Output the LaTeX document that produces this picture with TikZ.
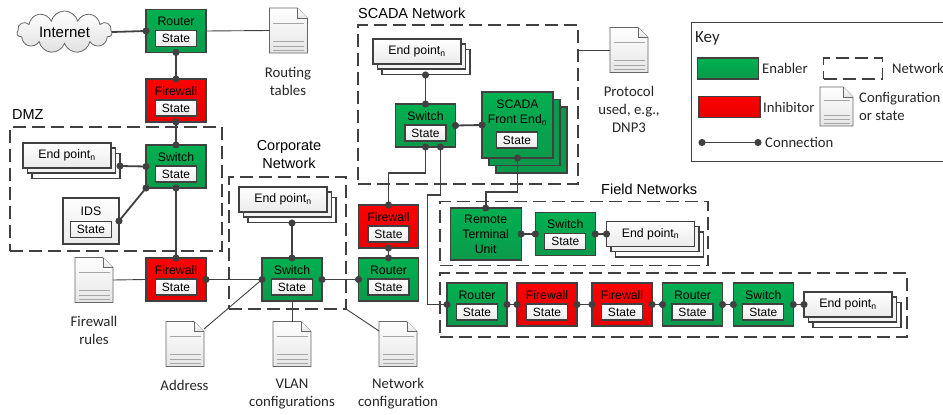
\documentclass[tikz,border=0pt]{standalone}
\usepackage{fontspec}
\setmainfont{Liberation Sans}
\newfontfamily\labelfont{Carlito}
\usetikzlibrary{arrows.meta}
\usetikzlibrary{calc}
\usetikzlibrary{shadows}
\usetikzlibrary{shapes.symbols}
\definecolor{linegray}{HTML}{404040}
\definecolor{greentop}{HTML}{00B050}
\definecolor{greenlow}{HTML}{0B9A4B}
\definecolor{redtop}{HTML}{FF0000}
\definecolor{redlow}{HTML}{E60000}
\tikzset{asset/.style={draw=linegray, line width=1.3pt, inner sep=0, outer sep=0, minimum width=60pt, minimum height=43pt}}
\tikzset{enabler/.style={asset, top color=greentop, bottom color=greenlow}}
\tikzset{inhibitor/.style={asset, top color=redtop, bottom color=redlow}}
\tikzset{plainbox/.style={asset, top color=white, bottom color=black!8}}
\tikzset{assetname/.style={inner sep=0, font=\fontsize{12.3}{15}\selectfont, align=center}}
\tikzset{statebox/.style={draw=linegray, line width=1.3pt, inner sep=0, outer sep=0, minimum width=41pt, minimum height=16pt, top color=white, bottom color=black!8, font=\fontsize{12}{14}\selectfont}}
\tikzset{endstack/.style={plainbox, minimum width=88pt, minimum height=25pt, font=\fontsize{12.3}{14}\selectfont, copy shadow={shadow xshift=9pt, shadow yshift=-10.5pt, fill=white, draw=linegray}, copy shadow={shadow xshift=4.5pt, shadow yshift=-5pt, fill=black!5, draw=linegray}}}
\tikzset{network/.style={draw=linegray, line width=1.3pt, dash pattern=on 13pt off 6pt, inner sep=0, outer sep=0}}
\tikzset{link/.style={draw=linegray, line width=1.8pt, {Circle[length=7pt]}-{Circle[length=7pt]}, shorten >=-3.5pt, shorten <=-3.5pt}}
\tikzset{thinlink/.style={draw=linegray, line width=0.9pt}}
\tikzset{docnode/.style={inner sep=0, outer sep=0, minimum width=38pt, minimum height=45pt}}
\tikzset{docsheet/.style={draw=black!60, line width=0.7pt, top color=white, bottom color=black!10}}
\tikzset{docrule/.style={draw=black!35, line width=0.6pt}}
\tikzset{doclabel/.style={inner sep=0, align=center, text=black!85, font=\labelfont\fontsize{14.8}{18}\selectfont}}
\tikzset{netlabel/.style={inner sep=0, align=center, font=\fontsize{14.5}{18}\selectfont}}
\tikzset{keylabel/.style={inner sep=0, anchor=west, align=left, text=black!85, font=\labelfont\fontsize{14.7}{18}\selectfont}}

\newcommand{\asset}[4]{
  \node[#1] at (#3) (#2) {};
  \node[assetname] at ([yshift=-12pt]#2.north) (#2name) {#4};
  \node[statebox] at ([yshift=-29pt]#2.north) (#2state) {State};
}
\newcommand{\docpage}[3][]{
  \node[docnode, #1] at (#3) (#2) {};
  \draw[docsheet] (#2.north west) -- ([xshift=-10pt]#2.north east) -- ([yshift=-10pt]#2.north east) -- (#2.south east) -- (#2.south west) -- cycle;
  \draw[docsheet] ([xshift=-10pt]#2.north east) -- ([shift={(-10pt,-10pt)}]#2.north east) -- ([yshift=-10pt]#2.north east);
  \foreach \f in {0.33,0.73,0.84,0.93}
    \draw[docrule] ($(#2.north west)!\f!(#2.south west)+(3.5pt,0)$) -- ($(#2.north east)!\f!(#2.south east)+(-3.5pt,0)$);
}

\begin{document}
\begin{tikzpicture}[x=1pt, y=-1pt]
  \useasboundingbox (0,0) rectangle (943,415);

  \node[network, minimum width=212pt, minimum height=124pt] at (116,189) (dmznet) {};
  \node[network, minimum width=117pt, minimum height=132pt] at (287.5,243) (corpnet) {};
  \node[network, minimum width=220pt, minimum height=159pt] at (468,104.5) (scadanet) {};
  \node[network, minimum width=268pt, minimum height=64pt] at (574,233.7) (fieldneta) {};
  \node[network, minimum width=467pt, minimum height=64pt] at (673.5,305) (fieldnetb) {};

  \node[netlabel, anchor=west] at (12,115) (dmzlabel) {DMZ};
  \node[netlabel] at (289,155) (corplabel) {Corporate\\Network};
  \node[netlabel, anchor=west] at (358,13) (scadalabel) {SCADA Network};
  \node[netlabel, anchor=west] at (601,189) (fieldlabel) {Field Networks};

  \node[cloud, cloud puffs=11, aspect=2.6, draw=black!60, line width=0.8pt, inner sep=0, outer sep=0, minimum width=95pt, minimum height=37pt, top color=white, bottom color=black!12, font=\fontsize{15}{18}\selectfont] at (64.5,32) (internet) {Internet};

  \asset{enabler}{router}{176,31}{Router}
  \asset{inhibitor}{fwtop}{176,100.5}{Firewall}
  \asset{enabler}{dmzswitch}{176,166.5}{Switch}
  \asset{inhibitor}{fwdmz}{176,279.5}{Firewall}
  \asset{enabler}{corpswitch}{292,279.5}{Switch}
  \asset{inhibitor}{fwscada}{388.5,226.5}{Firewall}
  \asset{enabler}{corprouter}{388.5,279.5}{Router}
  \asset{enabler}{scadaswitch}{425.5,125.5}{Switch}
  \asset{enabler}{fieldswitch}{565.3,234}{Switch}
  \asset{enabler}{routera}{477,304.5}{Router}
  \asset{inhibitor}{fwa}{547,304.5}{Firewall}
  \asset{inhibitor}{fwb}{622,304.5}{Firewall}
  \asset{enabler}{routerb}{692.5,304.5}{Router}
  \asset{enabler}{switchb}{763.3,304.5}{Switch}

  \node[plainbox, minimum width=56pt, minimum height=46pt] at (91,221) (ids) {};
  \node[assetname] at (91,211) (idsname) {IDS};
  \node[statebox] at (91,229.5) (idsstate) {State};

  \node[enabler, copy shadow={shadow xshift=14pt, shadow yshift=-15pt, fill=greenlow, draw=linegray}, copy shadow={shadow xshift=7pt, shadow yshift=-7.5pt, fill=greenlow, draw=linegray}, minimum width=71pt, minimum height=66pt] at (517.5,125) (scadafront) {};
  \node[assetname] at (517.5,112.5) (scadafrontname) {SCADA\\Front End\textsubscript{n}};
  \node[statebox] at (517,140) (scadafrontstate) {State};

  \node[enabler, minimum width=71pt, minimum height=52pt, align=center, font=\fontsize{12.3}{15}\selectfont] at (485.7,234) (rtu) {Remote\\Terminal\\Unit};

  \node[endstack] at (67,155.5) (dmzend) {End point\textsubscript{n}};
  \node[endstack] at (283,199.5) (corpend) {End point\textsubscript{n}};
  \node[endstack] at (417,51.5) (scadaend) {End point\textsubscript{n}};
  \node[endstack] at (650.5,234) (fieldend) {End point\textsubscript{n}};
  \node[endstack] at (848,304.5) (endb) {End point\textsubscript{n}};

  \docpage{routingdoc}{288.5,30.5}
  \docpage{firewalldoc}{94,280}
  \docpage{addressdoc}{185,344}
  \docpage{vlandoc}{292,344}
  \docpage{networkdoc}{398,344}
  \docpage{protocoldoc}{629,50}

  \node[doclabel] at (288,81) (routinglabel) {Routing\\tables};
  \node[doclabel] at (94,330) (firewalllabel) {Firewall\\rules};
  \node[doclabel] at (184.5,385) (addresslabel) {Address};
  \node[doclabel] at (292,394) (vlanlabel) {VLAN\\configurations};
  \node[doclabel] at (398,394) (networklabel) {Network\\configuration};
  \node[doclabel] at (629,109.5) (protocollabel) {Protocol\\used, e.g.,\\DNP3};

  \coordinate (fwbend) at (388.5,172.7);
  \coordinate (riserbend) at (427.5,195);
  \coordinate (rtubend) at (485.7,191.7);

  \draw[link, {Circle[length=0pt]}-{Circle[length=7pt]}, shorten <=0pt] (internet.east) -- (router.west);
  \draw[link] (router.south) -- (fwtop.north);
  \draw[link] (fwtop.south) -- (dmzswitch.north);
  \draw[link] ([shift={(9,10.5)}]dmzend.east) -- (dmzswitch.west);
  \draw[link] (ids.east) -- (dmzswitch.south west);
  \draw[link] (dmzswitch.south) -- (fwdmz.north);
  \draw[link] (fwdmz.east) -- (corpswitch.west);
  \draw[link] ([shift={(9,11)}]corpend.south) -- (corpswitch.north);
  \draw[link] (corpswitch.east) -- (corprouter.west);
  \draw[link] (corprouter.north) -- (fwscada.south);
  \draw[link] ([shift={(8.5,11)}]scadaend.south) -- (scadaswitch.north);
  \draw[link] (scadaswitch.east) -- (scadafront.west);
  \draw[link] (scadaswitch.south) |- (fwbend) -- (fwscada.north);
  \draw[link] ([xshift=15pt]scadaswitch.south) |- (riserbend) |- (routera.west);
  \draw[link] (scadafront.south) |- (rtubend) -- (rtu.north);
  \draw[link] (rtu.east) -- (fieldswitch.west);
  \draw[link] (fieldswitch.east) -- (fieldend.west);
  \draw[link] (routera.east) -- (fwa.west);
  \draw[link] (fwa.east) -- (fwb.west);
  \draw[link] (fwb.east) -- (routerb.west);
  \draw[link] (routerb.east) -- (switchb.west);
  \draw[link] (switchb.east) -- (endb.west);

  \draw[thinlink] (router.east) -- (routingdoc.west);
  \draw[thinlink] (firewalldoc.east) -- (fwdmz.west);
  \draw[thinlink] ([yshift=15pt]addressdoc.east) -- (corpswitch.west);
  \draw[thinlink] (corpswitch.south) -- (vlandoc.north);
  \draw[thinlink] (corpnet.south east) -- ([yshift=13pt]networkdoc.west);
  \draw[thinlink] (scadanet.east |- protocoldoc.west) -- (protocoldoc.west);

  \node[draw=linegray, line width=0.8pt, inner sep=0, minimum width=254pt, minimum height=139pt] at (818,92.2) (keybox) {};
  \node[keylabel, font=\labelfont\fontsize{17}{18}\selectfont] at (695,38) (keytitle) {Key};
  \node[enabler, minimum width=61pt, minimum height=21pt] at (728,68.5) (keyenabler) {};
  \node[keylabel] at (762,68.5) (keyenablerlabel) {Enabler};
  \node[inhibitor, minimum width=61pt, minimum height=21pt] at (729.5,106.7) (keyinhibitor) {};
  \node[keylabel] at (763,107) (keyinhibitorlabel) {Inhibitor};
  \node[network, minimum width=59pt, minimum height=21pt] at (853,68.5) (keynetwork) {};
  \node[keylabel] at (892,68.5) (keynetworklabel) {Network};
  \docpage[minimum width=33pt, minimum height=39pt]{keydoc}{836.5,106.5}
  \node[keylabel] at (859,106) (keydoclabel) {Configuration\\or state};
  \coordinate (keylinka) at (702,142.5);
  \coordinate (keylinkb) at (758,142.5);
  \draw[link] (keylinka) -- (keylinkb);
  \node[keylabel] at (765,142.5) (keylinklabel) {Connection};
\end{tikzpicture}
\end{document}
